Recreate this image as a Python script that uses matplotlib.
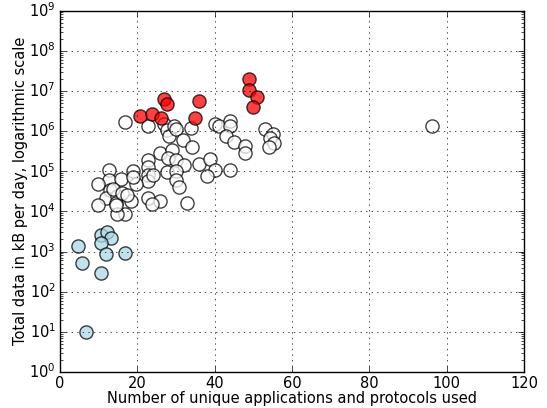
import matplotlib
matplotlib.use('Agg')
import matplotlib.pyplot as plt

plt.style.use('classic')
plt.rcParams['mathtext.fontset'] = 'dejavusans'

# heavy users (red)
heavy_apps = [20.8, 23.9, 26.0, 26.9, 27.7, 35.9, 34.8, 48.9, 48.9, 50.9, 49.8]
heavy_kb = [2.3e6, 2.6e6, 2.1e6, 6.3e6, 4.7e6, 5.5e6, 2.1e6, 1.94e7, 1.05e7, 6.9e6, 3.9e6]

# light users (blue)
light_apps = [4.6, 5.8, 10.7, 12.1, 13.1, 10.7, 11.8, 16.8, 10.7, 6.7]
light_kb = [1350, 530, 2600, 3000, 2150, 1600, 870, 940, 300, 10]

# everybody else (white)
other_apps = [16.8, 22.8, 27.0, 27.7, 28.1, 29.6, 30.1, 33.9, 31.9, 34.1,
              40.1, 41.1, 44.0, 44.0, 42.9, 45.0, 47.8, 47.9, 52.9, 55.0,
              54.3, 55.3, 54.0, 96.1,
              25.9, 28.9, 27.9, 30.1, 32.1, 22.8, 22.8, 22.8, 22.8, 27.7,
              30.0, 30.0, 30.8, 35.9, 38.9, 40.0, 37.9, 44.0, 24.1, 12.7,
              18.8, 12.7, 9.9, 15.9, 19.7, 19.0, 12.9,
              11.9, 14.8, 14.5, 9.8, 18.4, 16.9, 14.8, 22.8, 25.9, 23.8,
              32.8, 13.8, 16.0, 17.2, 14.5]
other_kb = [1.7e6, 1.3e6, 1.5e6, 1.07e6, 7.6e5, 1.3e6, 1.1e6, 1.2e6, 6.1e5, 4.0e5,
            1.5e6, 1.3e6, 1.8e6, 1.35e6, 7.4e5, 5.4e5, 4.2e5, 2.9e5, 1.15e6, 8.3e5,
            6.8e5, 5.0e5, 4.0e5, 1.3e6,
            2.8e5, 3.3e5, 2.1e5, 1.9e5, 1.45e5, 1.9e5, 1.26e5, 8.0e4, 5.6e4, 9.3e4,
            1.0e5, 6.1e4, 4.0e4, 1.5e5, 2.0e5, 1.06e5, 7.7e4, 1.1e5, 8.0e4, 1.05e5,
            1.0e5, 6.0e4, 4.9e4, 6.3e4, 4.9e4, 7.3e4, 3.5e4,
            2.2e4, 2.4e4, 1.65e4, 1.4e4, 1.8e4, 8.5e3, 8.7e3, 2.2e4, 1.85e4, 1.5e4,
            1.6e4, 3.7e4, 2.8e4, 2.5e4, 1.4e4]

fig = plt.figure(figsize=(5.47, 4.08), dpi=100, facecolor='white')
ax = fig.add_axes([0.1097, 0.0882, 0.8483, 0.8860])

kw = dict(s=90, alpha=0.75, edgecolors='black', linewidths=1.0)
ax.scatter(other_apps, other_kb, c='white', **kw)
ax.scatter(light_apps, light_kb, c='lightblue', **kw)
ax.scatter(heavy_apps, heavy_kb, c='red', **kw)

ax.set_yscale('log')
ax.set_xlim(0, 120)
ax.set_ylim(1, 1e9)
ax.grid(True, color='black', linestyle=':')
ax.tick_params(axis='both', which='major', labelsize=10.5, pad=3)
ax.set_xlabel('Number of unique applications and protocols used', fontsize=10.5, labelpad=0)
ax.set_ylabel('Total data in kB per day, logarithmic scale', fontsize=10.5, labelpad=1)

fig.savefig('out.png', dpi=100, facecolor='white')
